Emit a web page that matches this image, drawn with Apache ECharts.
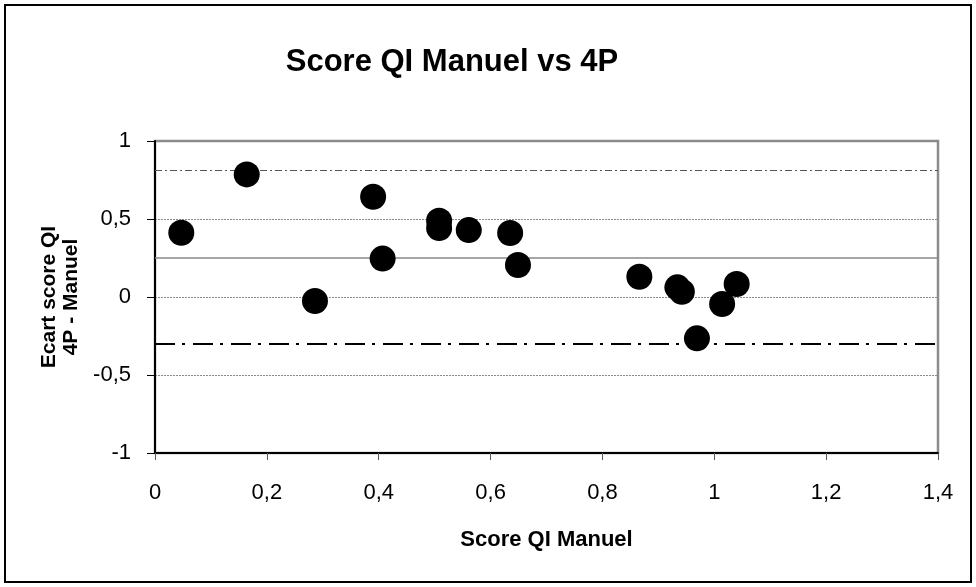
<!DOCTYPE html>
<html>
<head>
<meta charset="utf-8">
<script src="https://cdn.jsdelivr.net/npm/echarts@6/dist/echarts.min.js"></script>
<style>
  html, body { margin: 0; padding: 0; background: #fff; }
  #chart { width: 976px; height: 587px; }
</style>
</head>
<body>
<div id="chart"></div>
<script>
// Bland-Altman style agreement: manual IQ score vs 4P difference
const scoreManuel = [0.047, 0.164, 0.286, 0.390, 0.407, 0.508, 0.508, 0.561, 0.635, 0.649, 0.866, 0.934, 0.942, 0.969, 1.014, 1.040];
const ecart4P     = [0.412, 0.786, -0.026, 0.643, 0.246, 0.489, 0.442, 0.429, 0.410, 0.205, 0.130, 0.062, 0.034, -0.265, -0.045, 0.083];

const meanDiff   = 0.252;
const upperLimit = 0.812;
const lowerLimit = -0.305;

const xTicks = { min: 0, max: 1.4, step: 0.2 };
const yTicks = { min: -1, max: 1, step: 0.5 };

const points = scoreManuel.map((v, i) => [v, ecart4P[i]]);
const comma = v => String(+v.toFixed(2)).replace('.', ',');
const FONT = 'Liberation Sans, Arial, sans-serif';

const chart = echarts.init(document.getElementById('chart'), null, { renderer: 'canvas' });
chart.setOption({
  animation: false,
  backgroundColor: '#fff',
  title: {
    text: 'Score QI Manuel vs 4P',
    left: 447, top: 42, textAlign: 'center',
    textStyle: { fontFamily: FONT, fontSize: 31, fontWeight: 'bold', color: '#000' }
  },
  graphic: [{
    type: 'rect', silent: true,
    shape: { x: 5, y: 5, width: 966, height: 577 },
    style: { fill: 'none', stroke: '#000', lineWidth: 2 }
  }],
  grid: {
    left: 155, right: 38, top: 141, bottom: 134,
    show: true, borderColor: '#8c8c8c', borderWidth: 2.5, backgroundColor: 'transparent'
  },
  xAxis: {
    type: 'value', min: xTicks.min, max: xTicks.max, interval: xTicks.step,
    name: 'Score QI Manuel', nameLocation: 'middle', nameGap: 76,
    nameTextStyle: { fontFamily: FONT, fontSize: 22, fontWeight: 'bold', color: '#000' },
    axisLine: { show: true, onZero: false, lineStyle: { color: '#000', width: 2 } },
    axisTick: { show: true, length: 7, lineStyle: { color: '#555', width: 1 } },
    axisLabel: { fontFamily: FONT, fontSize: 22, color: '#000', margin: 29, formatter: comma },
    splitLine: { show: false }
  },
  yAxis: {
    type: 'value', min: yTicks.min, max: yTicks.max, interval: yTicks.step,
    name: 'Ecart score QI\n4P - Manuel', nameLocation: 'middle', nameRotate: 90, nameGap: 72,
    nameTextStyle: { fontFamily: FONT, fontSize: 21, fontWeight: 'bold', color: '#000', lineHeight: 22 },
    axisLine: { show: true, onZero: false, lineStyle: { color: '#000', width: 2 } },
    axisTick: { show: true, length: 8, lineStyle: { color: '#000', width: 1 } },
    axisLabel: { fontFamily: FONT, fontSize: 22, color: '#000', margin: 24, formatter: comma },
    splitLine: { show: true, lineStyle: { color: '#8a8a8a', width: 1, type: [2, 1] } }
  },
  series: [{
    type: 'scatter',
    data: points,
    symbol: 'circle',
    symbolSize: 26,
    itemStyle: { color: '#000', opacity: 1 },
    z: 5,
    markLine: {
      silent: true, symbol: 'none', label: { show: false }, animation: false,
      data: [
        { yAxis: upperLimit, lineStyle: { color: '#555', width: 1, type: [7, 3, 2, 3] } },
        { yAxis: meanDiff,   lineStyle: { color: '#888', width: 1.5, type: 'solid' } },
        { yAxis: lowerLimit, lineStyle: { color: '#000', width: 2.2, type: [20, 7, 3, 8] } }
      ]
    }
  }]
});
</script>
</body>
</html>
